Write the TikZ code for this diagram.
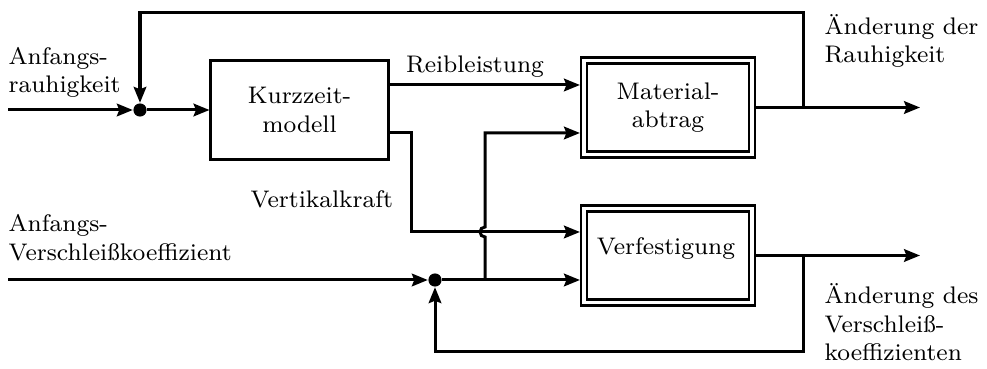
\documentclass[tikz,border=0pt]{standalone}
\usetikzlibrary{arrows.meta,calc}
\tikzset{
  wire/.style={line width=1pt},
  arr/.style={wire,-{Stealth[length=5.3pt,width=4.2pt,inset=0.8pt]}},
  block/.style={draw,line width=1pt,minimum width=59pt,minimum height=33.33pt,inner sep=0pt,align=center},
  dblock/.style={draw,line width=0.7pt,double,double distance=1.3pt,minimum width=56pt,minimum height=31.33pt,inner sep=0pt,outer sep=1.35pt,align=center},
  joint/.style={circle,fill,inner sep=0pt,minimum size=4.4pt},
  lbl/.style={inner sep=0pt},
  every node/.append style={font=\fontsize{8}{9.5}\selectfont},
}
\begin{document}
\begin{tikzpicture}[x=0.33333pt,y=0.33333pt]
\useasboundingbox (0,0) rectangle (987,369);

% blocks
\node[block] (kurz) at (299.5,259) {Kurzzeit-\\modell};
\node[dblock] (mat) at (668,261.5) {Material-\\abtrag};
\node[dblock] (verf) at (668,113.5) {};
\node[lbl,anchor=base] (verftxt) at (666,114) {Verfestigung};

% summing points
\node[joint] (j1) at (140,259) {};
\node[joint] (j2) at (435,89) {};

% free ends and bends
\coordinate (in1) at (8,259);
\coordinate (in2) at (8,89);
\coordinate (out1) at (920,261.5);
\coordinate (out2) at (920,113.5);
\coordinate (tap1) at (803,261.5);
\coordinate (tap2) at (803,113.5);
\coordinate (r0) at ($(kurz.east)+(0,25)$);
\coordinate (v0) at ($(kurz.east)+(0,-23)$);
\coordinate (vk) at (411,137);
\coordinate (b1) at (485,89);
\coordinate (b2) at (485,236);

% signal flow
\draw[arr] (in1) -- (j1);
\draw[arr] (j1) -- (kurz);
\draw[arr] (r0) -- (r0 -| mat.west);
\draw[arr] (v0) -| (vk) -- (vk -| verf.west);
\draw[arr] (in2) -- (j2);
\draw[arr] (j2) -- (j2 -| verf.west);
\draw[arr] (b1) -- (485,132) arc[start angle=270,end angle=90,radius=5] -- (b2) -- (b2 -| mat.west);
\draw[arr] (mat.east) -- (out1);
\draw[arr] (verf.east) -- (out2);

% feedback loops
\draw[arr] (tap1) |- (140,356) -- (j1);
\draw[arr] (tap2) |- (435,17) -- (j2);

% labels (multi-line labels are anchored at the baseline of their last line)
\node[lbl,anchor=base] (lreib) at (475,296) {Reibleistung};
\node[lbl,anchor=base west] (lvert) at (250,161) {Vertikalkraft};
\node[lbl,align=left,anchor=base west] (lin1) at (8,276) {Anfangs-\\rauhigkeit};
\node[lbl,align=left,anchor=base west] (lin2) at (8,109) {Anfangs-\\Verschlei\ss koeffizient};
\node[lbl,align=left,anchor=base west] (lout1) at (824,306) {\"Anderung der\\Rauhigkeit};
\node[lbl,align=left,anchor=base west] (lout2) at (824,8) {\"Anderung des\\Verschlei\ss-\\koeffizienten};
\end{tikzpicture}
\end{document}
